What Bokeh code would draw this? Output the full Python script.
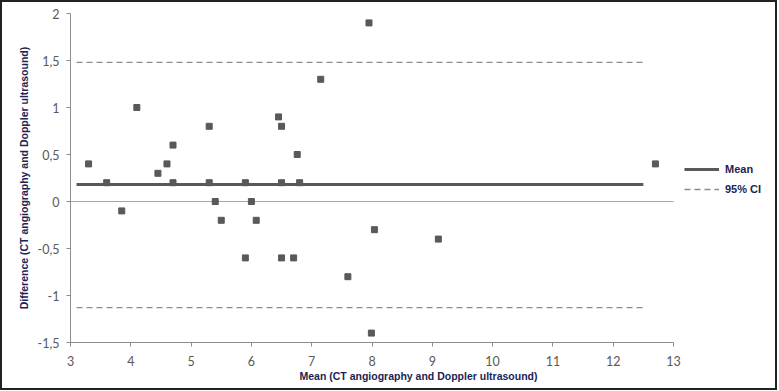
from bokeh.plotting import figure
from bokeh.layouts import column
from bokeh.models import Range1d, Legend, LegendItem, FixedTicker
from bokeh.embed import file_html
from bokeh.resources import INLINE

# Data (Bland-Altman plot)
mean_x = [3.3, 3.6, 3.85, 4.1, 4.45, 4.6, 4.7, 4.7, 5.3, 5.3, 5.4, 5.5, 5.9, 5.9, 6.0,
          6.08, 6.45, 6.5, 6.5, 6.5, 6.7, 6.76, 6.8, 7.15, 7.6, 7.95, 7.99, 8.04, 9.1, 12.7]
diff_y = [0.4, 0.2, -0.1, 1.0, 0.3, 0.4, 0.6, 0.2, 0.8, 0.2, 0.0, -0.2, 0.2, -0.6, 0.0,
          -0.2, 0.9, 0.8, 0.2, -0.6, -0.6, 0.5, 0.2, 1.3, -0.8, 1.9, -1.4, -0.3, -0.4, 0.4]
bias = 0.18
upper_ci = 1.48
lower_ci = -1.13
line_span = [3.1, 12.5]
zero_span = [3, 13]
x_axis_bounds = (3, 13)
x_ticks = [3, 4, 5, 6, 7, 8, 9, 10, 11, 12, 13]
y_ticks = [-1.5, -1, -0.5, 0, 0.5, 1, 1.5, 2]
y_tick_labels = ["-1,5", "-1", "-0,5", "0", "0,5", "1", "1,5", "2"]

title_color = "#1c2455"
tick_color = "#595959"

# frame: x 3..13 over 603 px, extended to the right to leave room for legend
x_end = 3 + 10 * 696 / 603

p = figure(width=773, height=386, output_backend="svg", toolbar_location=None,
           x_range=Range1d(3, x_end), y_range=Range1d(-1.5, 2),
           min_border_left=68, min_border_right=9, min_border_top=11, min_border_bottom=46)
p.grid.visible = False
p.outline_line_color = None
p.background_fill_color = "white"

# zero line
p.line(zero_span, [0, 0], line_color="#a6a6a6", line_width=1.2)
mean_r = p.line(line_span, [bias, bias], line_color="#595959", line_width=3)
up_r = p.line(line_span, [upper_ci, upper_ci], line_color="#8c8c8c", line_width=1.3, line_dash="6 4")
p.line(line_span, [lower_ci, lower_ci], line_color="#8c8c8c", line_width=1.3, line_dash="6 4")
p.scatter(mean_x, diff_y, marker="square", size=6, fill_color="#595959", line_color="#595959")

for ax in (p.xaxis[0], p.yaxis[0]):
    ax.axis_line_color = "#8c8c8c"
    ax.major_tick_line_color = "#8c8c8c"
    ax.minor_tick_line_color = None
    ax.major_tick_in = 0
    ax.major_tick_out = 4
    ax.major_label_text_color = tick_color
    ax.major_label_text_font = "Lato"
    ax.major_label_text_font_size = "12.5px"
    ax.axis_label_text_color = title_color
    ax.axis_label_text_font = "Liberation Sans"
    ax.axis_label_text_font_style = "bold"
    ax.axis_label_text_font_size = "10.5px"

p.xaxis.bounds = x_axis_bounds
p.xaxis.ticker = FixedTicker(ticks=x_ticks)
p.yaxis.ticker = FixedTicker(ticks=y_ticks)
p.yaxis.major_label_overrides = {t: l for t, l in zip(y_ticks, y_tick_labels)}
p.xaxis.axis_label = "Mean (CT angiography and Doppler ultrasound)"
p.yaxis.axis_label = "Difference (CT angiography and Doppler ultrasound)"
p.xaxis.major_label_standoff = 9
p.xaxis.axis_label_standoff = 1
p.yaxis.major_label_standoff = 7
p.yaxis.axis_label_standoff = 5

legend = Legend(items=[LegendItem(label="Mean", renderers=[mean_r]),
                       LegendItem(label="95% CI", renderers=[up_r])],
                location=(614, 146), border_line_color=None, background_fill_alpha=0,
                glyph_width=35, glyph_height=14, label_standoff=6, spacing=6, padding=2,
                label_text_font="Liberation Sans", label_text_font_style="bold",
                label_text_font_size="11px", label_text_color=title_color)
p.add_layout(legend, "center")

layout = column(p, styles={"border": "2px solid #222222", "background-color": "white"})

open("out.html", "w").write(file_html(layout, INLINE))
